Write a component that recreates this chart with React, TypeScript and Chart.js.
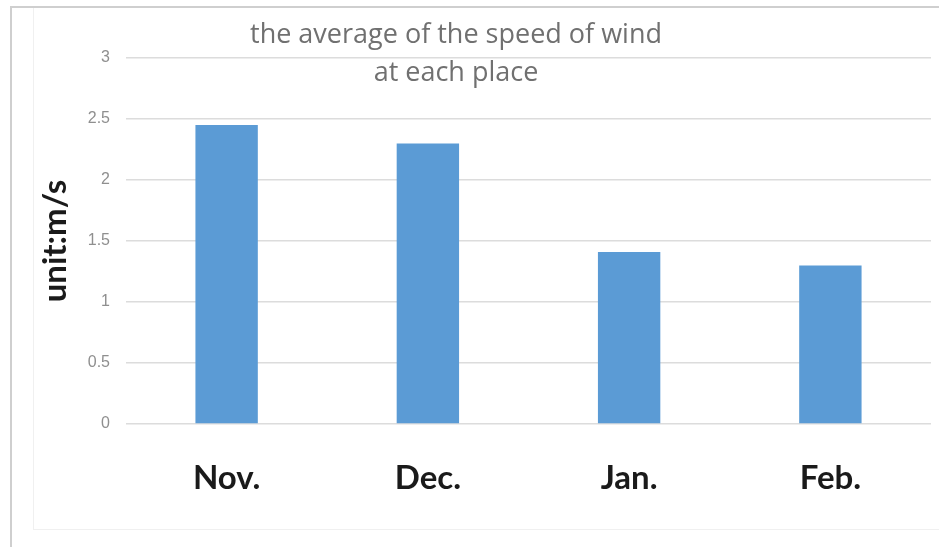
import React, { useEffect, useRef } from "react";
import { Chart, registerables } from "chart.js";

Chart.register(...registerables);

const months = ["Nov.", "Dec.", "Jan.", "Feb."];
const windSpeed = [2.45, 2.3, 1.41, 1.3];
const titleLines = ["the average of the speed of wind", "at each place"];
const yAxisTitle = "unit:m/s";

const W = 939;
const H = 547;

// Two-line title drawn over the top of the plot area
const titlePlugin = {
  id: "overlayTitle",
  afterDraw(chart: any) {
    const { ctx } = chart;
    ctx.save();
    ctx.font = "27px 'Open Sans'";
    ctx.fillStyle = "#707070";
    ctx.textAlign = "center";
    ctx.textBaseline = "middle";
    ctx.fillText(titleLines[0], 456, 35);
    ctx.fillText(titleLines[1], 456, 73);
    ctx.restore();
  },
};

export default function App() {
  const ref = useRef<HTMLCanvasElement>(null);

  useEffect(() => {
    if (!ref.current) return;
    const chart = new Chart(ref.current, {
      type: "bar",
      data: {
        labels: months,
        datasets: [
          {
            data: windSpeed,
            backgroundColor: "#5b9bd5",
            barPercentage: 0.31,
            categoryPercentage: 1,
          },
        ],
      },
      options: {
        responsive: false,
        animation: false,
        layout: { padding: { top: 58, right: 8, left: 0, bottom: 0 } },
        plugins: {
          legend: { display: false },
          tooltip: { enabled: false },
          title: { display: false },
        },
        scales: {
          x: {
            grid: { display: false, drawTicks: false },
            border: { display: false },
            ticks: {
              color: "#1a1a1a",
              font: { family: "Lato", size: 33, weight: "bold" },
              padding: 35,
            },
            afterFit(scale: any) {
              scale.height = H - 424;
            },
          },
          y: {
            min: 0,
            max: 3,
            ticks: {
              stepSize: 0.5,
              color: "#8f8f8f",
              font: { family: "Liberation Sans Narrow, Liberation Sans", size: 16 },
              padding: 16,
              callback: (v: any) => String(v),
            },
            grid: { color: "#dcdcdc", lineWidth: 1.5, drawTicks: false },
            border: { display: false },
            title: {
              display: true,
              text: yAxisTitle,
              color: "#1a1a1a",
              font: { family: "Lato", size: 33, weight: "bold" },
              padding: { top: 36, bottom: 0 },
            },
            afterFit(scale: any) {
              scale.width = 126;
            },
          },
        },
      },
      plugins: [titlePlugin],
    });
    return () => chart.destroy();
  }, []);

  return (
    <div
      style={{
        position: "absolute",
        left: 0,
        top: 0,
        width: W,
        height: H,
        background: "#ffffff",
        overflow: "hidden",
      }}
    >
      <div
        style={{
          position: "absolute",
          left: 10,
          top: 6,
          right: 0,
          bottom: 0,
          borderTop: "2px solid #cfcfcf",
          borderLeft: "2px solid #cfcfcf",
        }}
      />
      <div
        style={{
          position: "absolute",
          left: 33,
          top: 8,
          right: 0,
          height: 521,
          borderLeft: "1px solid #f0f0f0",
          borderBottom: "1px solid #f0f0f0",
        }}
      />
      <canvas
        ref={ref}
        width={W}
        height={H}
        style={{ position: "absolute", left: 0, top: 0 }}
      />
    </div>
  );
}
